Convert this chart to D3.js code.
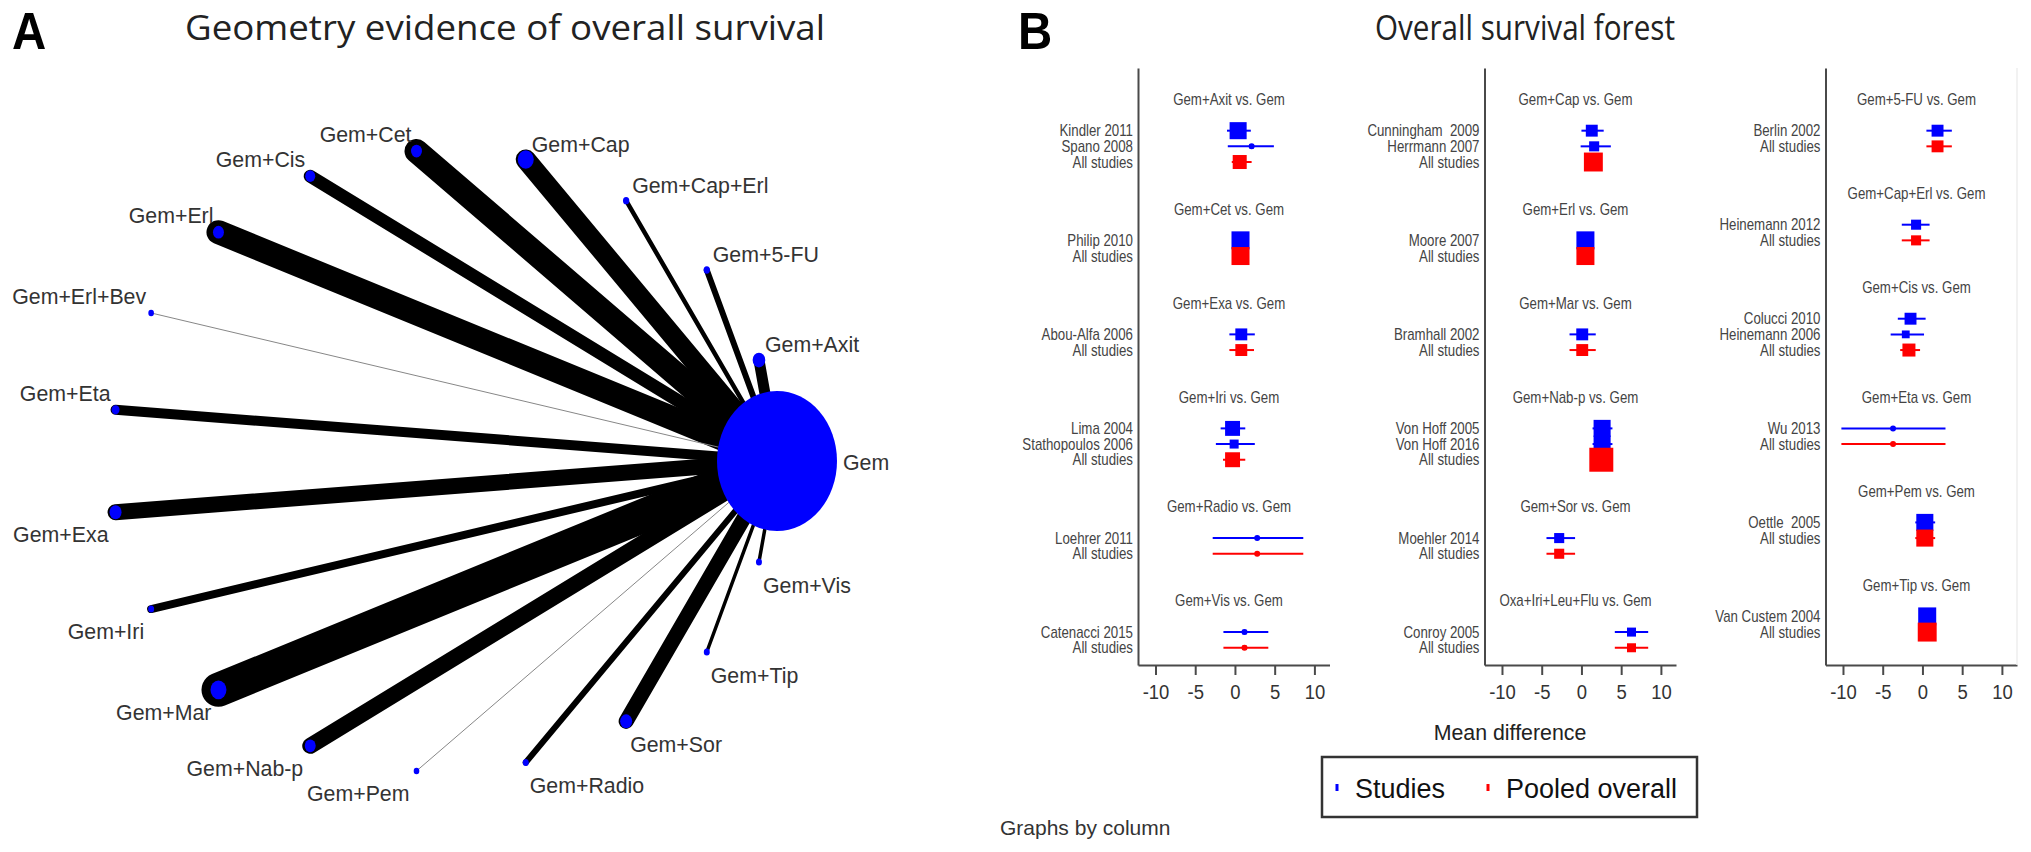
<!DOCTYPE html>
<html><head><meta charset="utf-8">
<script src="https://cdn.jsdelivr.net/npm/d3@7"></script>
<style>
html,body{margin:0;padding:0;background:#fff;}
svg{display:block;}
text{font-family:"Liberation Sans",Arial,sans-serif;white-space:pre;}
</style></head><body>
<svg id="chart" width="2031" height="852"></svg>
<script>
// ---------------- Panel A data (network geometry) ----------------
const networkNodes = ["Gem","Gem+Axit","Gem+5-FU","Gem+Cap+Erl","Gem+Cap","Gem+Cet","Gem+Cis","Gem+Erl","Gem+Erl+Bev","Gem+Eta","Gem+Exa","Gem+Iri","Gem+Mar","Gem+Nab-p","Gem+Pem","Gem+Radio","Gem+Sor","Gem+Tip","Gem+Vis"];
const nodeSize = [3600, 40, 10, 10, 64, 30, 25, 30, 8, 16, 36, 9, 64, 30, 8, 9, 36, 9, 9];
const edgeSource = "Gem";
const edgeTargets = ["Gem+Axit","Gem+5-FU","Gem+Cap+Erl","Gem+Cap","Gem+Cet","Gem+Cis","Gem+Erl","Gem+Erl+Bev","Gem+Eta","Gem+Exa","Gem+Iri","Gem+Mar","Gem+Nab-p","Gem+Pem","Gem+Radio","Gem+Sor","Gem+Tip","Gem+Vis"];
const edgeWeight = [11, 6, 4.5, 20, 24, 13, 24, 1, 10, 16, 8, 34, 16, 1, 6, 15, 3.5, 3.5];

// ---------------- Panel B data (forest) ----------------
const comparisonLabels = ["Gem+Axit vs. Gem","Gem+Cet vs. Gem","Gem+Exa vs. Gem","Gem+Iri vs. Gem","Gem+Radio vs. Gem","Gem+Vis vs. Gem",
  "Gem+Cap vs. Gem","Gem+Erl vs. Gem","Gem+Mar vs. Gem","Gem+Nab-p vs. Gem","Gem+Sor vs. Gem","Oxa+Iri+Leu+Flu vs. Gem",
  "Gem+5-FU vs. Gem","Gem+Cap+Erl vs. Gem","Gem+Cis vs. Gem","Gem+Eta vs. Gem","Gem+Pem vs. Gem","Gem+Tip vs. Gem"];
const comparisonColumn = [0,0,0,0,0,0, 1,1,1,1,1,1, 2,2,2,2,2,2];
const studyLabels = ["Kindler 2011","Spano 2008","Philip 2010","Abou-Alfa 2006","Lima 2004","Stathopoulos 2006","Loehrer 2011","Catenacci 2015",
  "Cunningham  2009","Herrmann 2007","Moore 2007","Bramhall 2002","Von Hoff 2005","Von Hoff 2016","Moehler 2014","Conroy 2005",
  "Berlin 2002","Heinemann 2012","Colucci 2010","Heinemann 2006","Wu 2013","Oettle  2005","Van Custem 2004"];
const studyComparison = [0,0,1,2,3,3,4,5, 6,6,7,8,9,9,10,11, 12,13,14,14,15,16,17];
const studyMD   = [0.4, 2.1, 0.7, 0.8, -0.3, -0.1, 2.8, 1.2,  1.3, 1.6, 0.5, 0.1, 2.6, 2.6, -2.8, 6.3,  1.9, -0.8, -1.5, -2.1, -3.7, 0.3, 0.6];
const studyLow  = [-1.0, -0.9, 0.1, -0.7, -1.8, -2.4, -2.8, -1.45,  0.0, -0.1, 0.0, -1.5, 1.4, 1.4, -4.4, 4.2,  0.5, -2.6, -3.1, -4.0, -10.2, -0.9, -0.1];
const studyHigh = [2.0, 4.9, 1.3, 2.5, 1.3, 2.5, 8.6, 4.2,  2.8, 3.7, 1.0, 1.8, 3.9, 3.9, -0.8, 8.4,  3.7, 0.9, 0.4, 0.2, 2.9, 1.6, 1.3];
const studyWeight = [43, 3, 48, 21, 33, 12, 0.5, 3,  21, 15, 48, 21, 43, 43, 15, 12,  21, 15, 21, 9, 0.5, 43, 48];
const pooledLabel = "All studies";
const pooledMD   = [0.6, 0.7, 0.8, -0.3, 2.8, 1.2,  1.5, 0.5, 0.1, 2.5, -2.8, 6.3,  1.9, -0.8, -1.7, -3.7, 0.3, 0.6];
const pooledLow  = [-0.4, 0.1, -0.7, -1.5, -2.8, -1.45,  0.6, 0.0, -1.5, 1.6, -4.4, 4.2,  0.5, -2.6, -2.8, -10.2, -0.9, -0.1];
const pooledHigh = [2.1, 1.3, 2.4, 1.3, 8.6, 4.2,  2.4, 1.0, 1.8, 3.4, -0.8, 8.4,  3.7, 0.9, -0.3, 2.9, 1.6, 1.3];
const pooledWeight = [29, 48, 21, 33, 0.5, 3,  53, 48, 21, 85, 15, 12,  21, 15, 25, 0.5, 43, 53];
const xTicks = [-10, -5, 0, 5, 10];
const legendLabels = ["Studies", "Pooled overall"];
const seriesColors = ["#0000ff", "#ff0000"];

// ---------------- drawing ----------------
const svg = d3.select("#chart");
const BLUE = "#0000ff";

function txt(parent, x, y, s, o) {
  o = o || {};
  const t = parent.append("text")
    .attr("transform", `translate(${x},${y}) scale(${o.sx || 1},1)`)
    .attr("text-anchor", o.anchor || "start")
    .style("font-size", (o.size || 16) + "px")
    .style("fill", o.fill || "#333")
    .text(s);
  if (o.family) t.style("font-family", o.family);
  if (o.weight) t.style("font-weight", o.weight);
  if (o.len) t.attr("textLength", o.len).attr("lengthAdjust", "spacingAndGlyphs");
  return t;
}

// ===== Panel A =====
const gA = svg.append("g");
txt(gA, 12, 49, "A", {size: 51, weight: 700, fill: "#000", sx: 0.93});
txt(gA, 505, 40, "Geometry evidence of overall survival", {size: 35, anchor: "middle", family: "'Open Sans',sans-serif", fill: "#222", len: 640});

const angle = d3.scaleLinear().domain([0, networkNodes.length]).range([0, 2 * Math.PI]);
const xA = d3.scaleLinear().domain([-1, 1]).range([111, 777]);
const yA = d3.scaleLinear().domain([-1, 1]).range([772, 150]);
const rA = d3.scaleSqrt().domain([0, 3600]).range([0, 60]);
const wA = d3.scaleLinear().domain([0, 34]).range([0, 34]);
const cA = d3.scaleLinear().domain([0.8, 2.5]).range(["#999", "#000"]).clamp(true);
const nodePos = networkNodes.map((n, i) => {
  const a = angle(i);
  return {name: n, a: a, x: xA(Math.cos(a)), y: yA(Math.sin(a)), r: rA(nodeSize[i])};
});
const byName = new Map(nodePos.map(d => [d.name, d]));

gA.append("g").selectAll("line").data(edgeTargets).join("line")
  .attr("x1", byName.get(edgeSource).x).attr("y1", byName.get(edgeSource).y)
  .attr("x2", d => byName.get(d).x).attr("y2", d => byName.get(d).y)
  .attr("stroke", (d, i) => cA(edgeWeight[i]))
  .attr("stroke-width", (d, i) => wA(edgeWeight[i]))
  .attr("stroke-linecap", "round");

gA.append("g").selectAll("ellipse").data(nodePos).join("ellipse")
  .attr("cx", d => d.x).attr("cy", d => d.y)
  .attr("rx", d => d.r).attr("ry", d => d.r * 1.167)
  .attr("fill", BLUE);

nodePos.forEach(d => {
  const deg = d.a * 180 / Math.PI;
  let x, y, anchor;
  if (deg < 1) { x = d.x + d.r + 6; y = d.y + 9; anchor = "start"; }
  else if (deg < 90) { x = d.x + 6; y = d.y - 8; anchor = "start"; }
  else if (deg < 180) { x = d.x - 5; y = d.y - 9; anchor = "end"; }
  else if (deg < 270) { x = d.x - 7; y = d.y + 30; anchor = "end"; }
  else { x = d.x + 4; y = d.y + 31; anchor = "start"; }
  txt(gA, x, y, d.name, {size: 22, anchor: anchor, fill: "#333", sx: 0.97});
});

// ===== Panel B =====
const gB = svg.append("g");
txt(gB, 1018, 49, "B", {size: 51, weight: 700, fill: "#000", sx: 0.93});
txt(gB, 1525, 40, "Overall survival forest", {size: 34, anchor: "middle", family: "'Open Sans',sans-serif", fill: "#222", len: 300});

const colLeft = [1138, 1484.5, 1825.5];
const colW = 191.5;
const yB = d3.scaleLinear().domain([-2, 36.1]).range([68, 665]);
const sizeB = d3.scaleSqrt().domain([0, 100]).range([0, 26]);
const AX = "#4a4a4a";
const SX = 0.83;

// build row layout per column
const rows = [];
[0, 1, 2].forEach(c => {
  let r = 0;
  comparisonLabels.forEach((lab, gi) => {
    if (comparisonColumn[gi] !== c) return;
    rows.push({type: "header", col: c, row: r, label: lab});
    r += 2;
    studyLabels.forEach((s, si) => {
      if (studyComparison[si] !== gi) return;
      rows.push({type: "study", col: c, row: r, label: s, md: studyMD[si], lo: studyLow[si], hi: studyHigh[si], w: studyWeight[si], s: 0});
      r += 1;
    });
    rows.push({type: "study", col: c, row: r, label: pooledLabel, md: pooledMD[gi], lo: pooledLow[gi], hi: pooledHigh[gi], w: pooledWeight[gi], s: 1});
    r += 3;
  });
});

[0, 1, 2].forEach(c => {
  const x = d3.scaleLinear().domain([-12.2, 11.9]).range([colLeft[c], colLeft[c] + colW]);
  const g = gB.append("g");
  const ax = g.append("g").attr("transform", `translate(0,${yB.range()[1]})`)
    .call(d3.axisBottom(x).tickValues(xTicks).tickSize(10).tickSizeOuter(0).tickPadding(6).tickFormat(d => String(d)));
  ax.select(".domain").attr("stroke", AX).attr("stroke-width", 2);
  ax.selectAll(".tick line").attr("stroke", AX).attr("stroke-width", 2);
  ax.selectAll(".tick text").style("font-size", "21px").style("fill", "#333")
    .style("font-family", "'Liberation Sans',Arial,sans-serif")
    .attr("transform", "scale(0.88,1)").attr("dy", "0.85em");
  const ay = g.append("g").attr("transform", `translate(${colLeft[c]},0)`)
    .call(d3.axisLeft(yB).tickValues([]).tickSizeOuter(0));
  ay.select(".domain").attr("stroke", AX).attr("stroke-width", 2);

  const rs = rows.filter(d => d.col === c);
  rs.filter(d => d.type === "header").forEach(d => {
    txt(g, colLeft[c] + 91, yB(d.row) + 5.5, d.label, {size: 16, anchor: "middle", fill: "#444", sx: SX});
  });
  rs.filter(d => d.type === "study").forEach(d => {
    txt(g, colLeft[c] - 5, yB(d.row) + 5.5, d.label, {size: 16, anchor: "end", fill: "#444", sx: SX});
    const col = seriesColors[d.s];
    const yy = yB(d.row);
    g.append("line").attr("x1", x(d.lo)).attr("x2", x(d.hi)).attr("y1", yy).attr("y2", yy)
      .attr("stroke", col).attr("stroke-width", 2);
    const sz = sizeB(d.w);
    g.append("rect").attr("x", x(d.md) - sz / 2).attr("y", yy - sz / 2).attr("width", sz).attr("height", sz)
      .attr("fill", col);
    g.append("circle").attr("cx", x(d.md)).attr("cy", yy).attr("r", 3).attr("fill", col);
  });
});
gB.append("line").attr("x1", 2017).attr("x2", 2017).attr("y1", 68).attr("y2", 665).attr("stroke", "#eeeeee").attr("stroke-width", 1.5);

txt(gB, 1510, 740, "Mean difference", {size: 22, anchor: "middle", fill: "#222", sx: 0.97});

// legend
const lg = gB.append("g");
lg.append("rect").attr("x", 1322).attr("y", 757).attr("width", 375).attr("height", 60)
  .attr("fill", "#fff").attr("stroke", "#333").attr("stroke-width", 2.5);
const legX = [1337, 1488];
legendLabels.forEach((l, i) => {
  lg.append("rect").attr("x", legX[i] - 1.5).attr("y", 784).attr("width", 3).attr("height", 7).attr("fill", seriesColors[i]);
  txt(lg, legX[i] + 18, 798, l, {size: 27, fill: "#111"});
});

txt(gB, 1000, 835, "Graphs by column", {size: 21, fill: "#333"});
</script>
</body></html>
